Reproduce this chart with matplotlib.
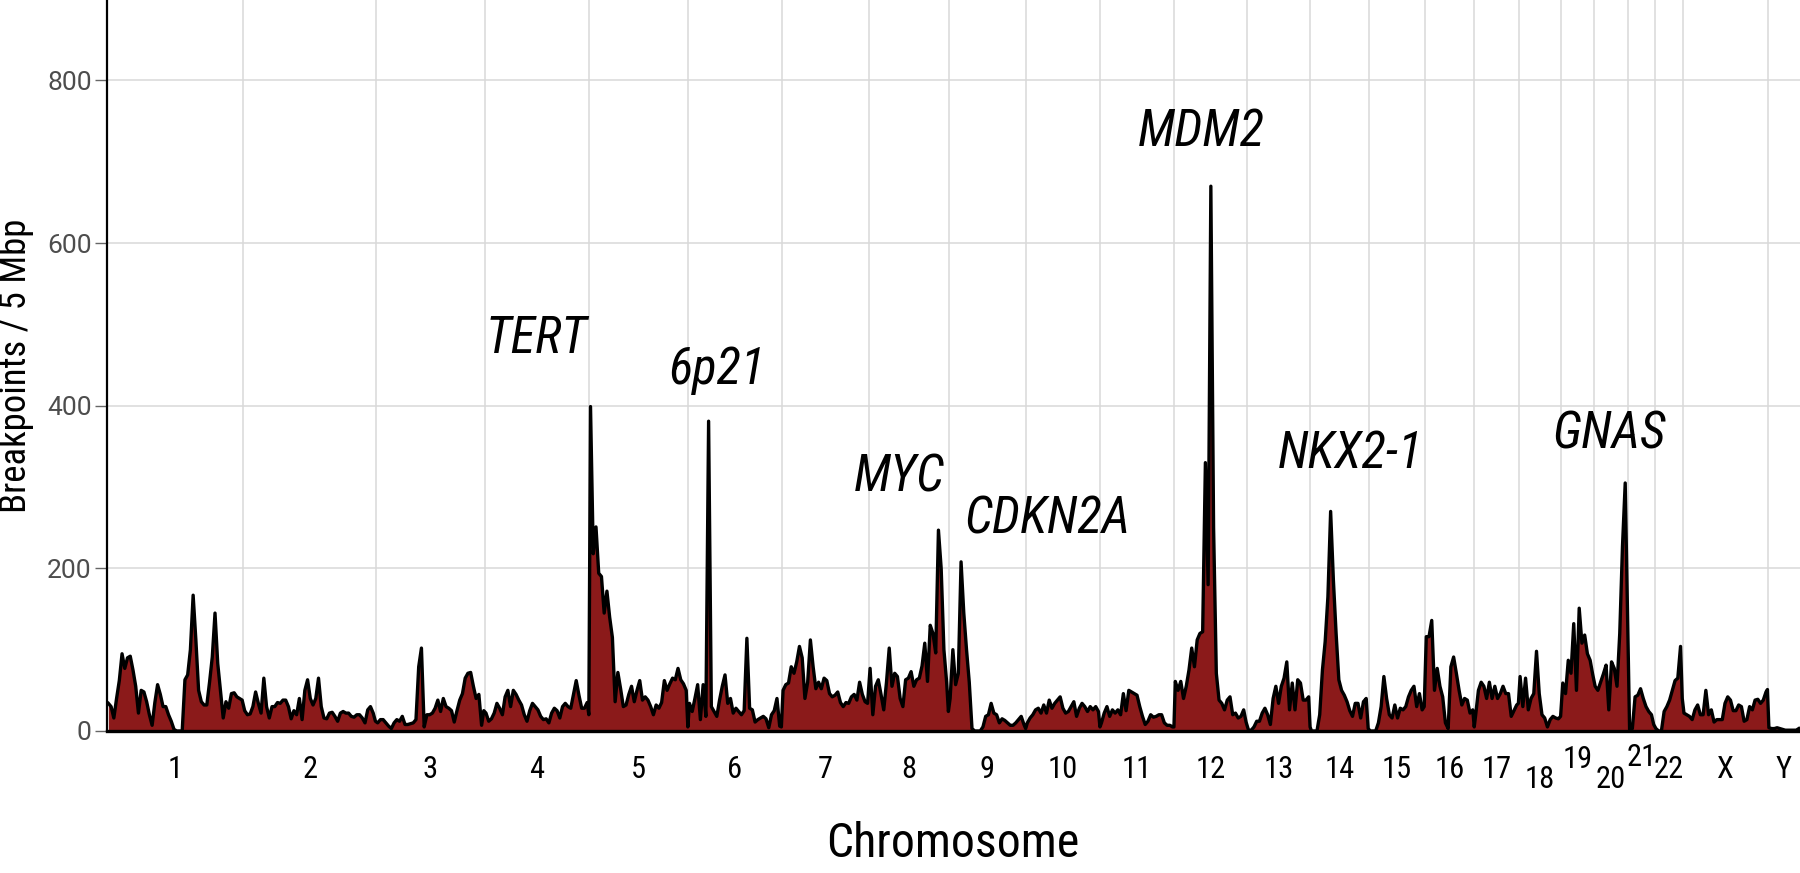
import matplotlib
matplotlib.use("Agg")
import matplotlib.pyplot as plt
import matplotlib.transforms as mtransforms
from matplotlib import font_manager

# chromosome sizes (hg19, Mbp) and 5 Mbp breakpoint counts
chrom_names = ["1", "2", "3", "4", "5", "6", "7", "8", "9", "10", "11", "12",
               "13", "14", "15", "16", "17", "18", "19", "20", "21", "22", "X", "Y"]
chrom_len = [249.25, 243.20, 198.02, 191.15, 180.92, 171.12, 159.14, 146.36,
             141.21, 135.53, 135.01, 133.85, 115.17, 107.35, 102.53, 90.35,
             81.20, 78.08, 59.13, 63.03, 48.13, 51.30, 155.27, 59.37]
bin_size = 5

chr1 = [34, 30, 16, 40, 62, 95, 77, 90, 92, 75, 55, 22, 50, 48, 36, 20, 7, 35, 57, 45,
        30, 30, 20, 12, 2, 0, 0, 0, 63, 69, 100, 167, 112, 50, 36, 32, 32, 60, 91, 145,
        83, 50, 16, 36, 28, 46, 47, 42, 40, 38]
chr2 = [25, 20, 21, 30, 48, 34, 22, 65, 30, 16, 30, 30, 35, 34, 38, 38, 30, 15, 25, 20,
        40, 14, 50, 63, 40, 32, 40, 65, 30, 16, 15, 22, 23, 18, 12, 22, 24, 22, 22, 18,
        17, 20, 20, 16, 10, 26, 30, 22, 12]
chr3 = [10, 14, 14, 10, 6, 3, 10, 14, 12, 18, 8, 8, 9, 10, 14, 79, 102, 5, 20, 20,
        22, 28, 38, 24, 40, 30, 28, 25, 11, 25, 38, 46, 65, 71, 72, 55, 40, 45, 7, 25]
chr4 = [22, 12, 15, 22, 34, 28, 20, 42, 50, 30, 50, 45, 38, 32, 20, 12, 25, 34, 30, 26,
        18, 14, 15, 10, 22, 28, 25, 16, 30, 34, 30, 28, 45, 62, 44, 28, 28, 35, 20]
chr5 = [399, 218, 251, 194, 190, 145, 172, 140, 115, 36, 72, 52, 30, 32, 45, 55, 36, 50,
        62, 38, 42, 38, 30, 20, 32, 28, 35, 62, 50, 58, 65, 63, 77, 63, 58, 50, 5]
chr6 = [34, 24, 40, 57, 14, 57, 18, 381, 30, 24, 18, 38, 55, 69, 34, 40, 22, 28, 24, 20,
        25, 114, 28, 26, 11, 14, 16, 18, 15, 4, 20, 25, 40, 6, 5]
chr7 = [50, 57, 59, 79, 71, 85, 104, 90, 40, 60, 112, 79, 52, 60, 52, 65, 62, 46, 42, 44,
        48, 35, 30, 35, 34, 42, 45, 38, 60, 45, 36, 34]
chr8 = [77, 20, 55, 63, 45, 26, 60, 102, 55, 71, 67, 40, 30, 63, 65, 73, 55, 63, 65, 80,
        108, 61, 130, 120, 96, 247, 200, 100, 60, 24]
chr9 = [40, 100, 57, 71, 208, 145, 100, 60, 3, 0, 0, 0, 5, 18, 20, 34, 22, 20, 10, 15,
        13, 10, 7, 7, 10, 14, 18, 8, 3]
chr10 = [10, 16, 20, 26, 28, 22, 32, 22, 38, 28, 34, 38, 42, 28, 22, 24, 30, 36, 18, 28,
         34, 30, 24, 30, 26, 30, 24, 5]
chr11 = [10, 22, 30, 18, 26, 22, 26, 20, 46, 25, 50, 48, 46, 44, 30, 18, 8, 12, 20, 17,
         18, 20, 20, 10, 7, 7, 5, 5]
chr12 = [61, 50, 61, 40, 55, 75, 102, 79, 112, 120, 122, 330, 180, 670, 250, 71, 38, 34,
         26, 38, 42, 20, 22, 16, 18, 26, 11]
chr13 = [1, 1, 5, 12, 12, 22, 28, 20, 8, 40, 55, 34, 55, 65, 85, 26, 59, 26, 63, 59,
         38, 38, 42, 5]
chr14 = [0, 0, 0, 20, 75, 110, 165, 270, 186, 120, 63, 50, 44, 36, 25, 18, 34, 34, 16, 36,
         40, 3]
chr15 = [0, 0, 0, 10, 30, 67, 40, 20, 16, 32, 16, 28, 26, 30, 42, 50, 55, 30, 46, 26, 30]
chr16 = [116, 116, 136, 50, 77, 55, 42, 10, 3, 79, 91, 71, 50, 32, 40, 38, 22, 26, 5]
chr17 = [20, 50, 60, 55, 40, 60, 40, 55, 40, 46, 55, 46, 46, 18, 25, 32, 34]
chr18 = [67, 30, 65, 26, 40, 46, 98, 46, 20, 16, 5, 14, 18, 16, 15, 18]
chr19 = [59, 46, 87, 71, 132, 50, 151, 108, 118, 95, 87, 70]
chr20 = [55, 50, 60, 70, 81, 26, 85, 77, 55, 120, 227, 305, 150]
chr21 = [1, 3, 42, 44, 52, 40, 30, 24, 20, 8]
chr22 = [3, 0, 0, 24, 30, 38, 50, 62, 65, 104, 40]
chrX = [22, 20, 18, 14, 26, 32, 20, 20, 50, 20, 26, 11, 14, 14, 14, 34, 42, 38, 25, 25,
        32, 30, 12, 14, 30, 26, 38, 39, 34, 38, 48, 51]
chrY = [4, 3, 3, 4, 3, 2, 1, 1, 1, 1, 1, 3]

counts = [chr1, chr2, chr3, chr4, chr5, chr6, chr7, chr8, chr9, chr10, chr11, chr12,
          chr13, chr14, chr15, chr16, chr17, chr18, chr19, chr20, chr21, chr22, chrX, chrY]

# gene labels: text, genome position (Mbp) and height of the label centre
gene_labels = ["TERT", "6p21", "MYC", "CDKN2A", "MDM2", "NKX2-1", "GNAS"]
gene_x = [785, 1115, 1449, 1719, 2000, 2273, 2747]
gene_y = [482, 444, 312, 260, 737, 341, 365]

# tick labels that are nudged up/down to avoid overlap (pixels)
label_shift = {"18": -10, "19": 10, "20": -11, "21": 11}

installed = {f.name for f in font_manager.fontManager.ttflist}
cond = next((f for f in ["Roboto Condensed", "Liberation Sans Narrow"] if f in installed), "Roboto")
plain = "Roboto" if "Roboto" in installed else "DejaVu Sans"

# genome coordinates
starts = []
pos = 0.0
for L in chrom_len:
    starts.append(pos)
    pos += L
total = pos

xs, ys = [], []
for s, L, vals in zip(starts, chrom_len, counts):
    for i, v in enumerate(vals):
        lo = i * bin_size
        hi = min((i + 1) * bin_size, L)
        xs.append(s + (lo + hi) / 2)
        ys.append(v)

fig = plt.figure(figsize=(18, 8.73), dpi=100)
ax = fig.add_axes([107 / 1800, 142 / 873, 1693 / 1800, 731 / 873])

grid_col = "#D9D9D9"
for s in starts[1:]:
    ax.axvline(s, color=grid_col, lw=1.1, zorder=0)
for yv in [0, 200, 400, 600, 800]:
    ax.axhline(yv, color=grid_col, lw=1.1, zorder=0)

ax.fill_between(xs, ys, 0, color="#8B1A1A", lw=0, zorder=2)
ax.plot(xs, ys, color="black", lw=2.4, zorder=3, clip_on=False)
ax.plot([0, total], [0, 0], color="black", lw=2.4, zorder=3, clip_on=False)

ax.set_xlim(0, total)
ax.set_ylim(0, 899)

for side in ["top", "right", "bottom"]:
    ax.spines[side].set_visible(False)
ax.spines["left"].set_linewidth(1.6)
ax.spines["left"].set_color("black")

ax.set_yticks([0, 200, 400, 600, 800])
ax.set_yticklabels(["0", "200", "400", "600", "800"], fontsize=19, color="#4D4D4D",
                   family=plain)
ax.tick_params(axis="y", length=9, width=1.0, color="#666666", pad=2)
ax.set_xticks([])

# chromosome labels under their centres
base = mtransforms.blended_transform_factory(ax.transData, ax.transAxes)
for name, s, L in zip(chrom_names, starts, chrom_len):
    tr = mtransforms.offset_copy(base, fig=fig, x=0, y=-38 + label_shift.get(name, 0),
                                 units="dots")
    ax.text(s + L / 2, 0, name, transform=tr, ha="center", va="center",
            fontsize=22, family=cond, color="black", clip_on=False)

for lab, gx, gy in zip(gene_labels, gene_x, gene_y):
    ax.text(gx, gy, lab, ha="center", va="center", fontsize=36.5, style="italic",
            family=cond, color="black")

fig.text(16 / 1800, (873 - 366) / 873, "Breakpoints / 5 Mbp", rotation=90,
         ha="center", va="center", fontsize=26.5, family=cond)
fig.text(953 / 1800, 6 / 873, "Chromosome", ha="center", va="bottom",
         fontsize=34.5, family=cond)

fig.savefig("out.png", dpi=100)
